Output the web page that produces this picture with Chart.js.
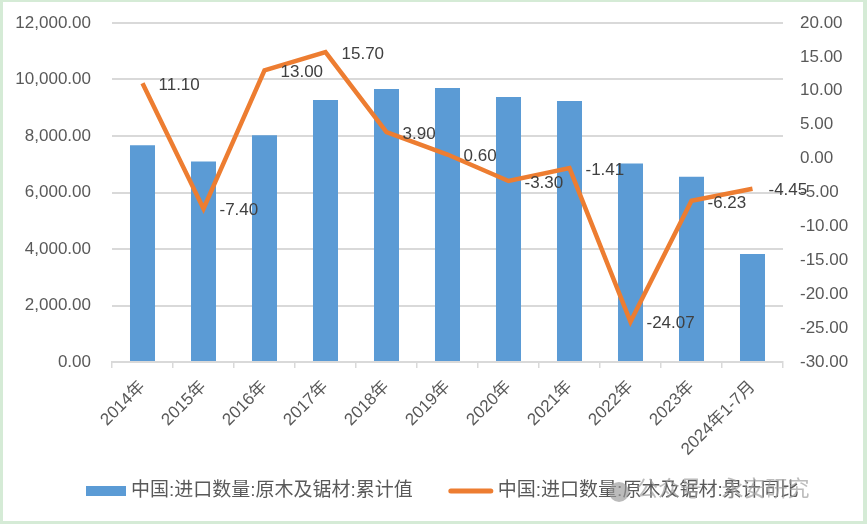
<!DOCTYPE html>
<html>
<head>
<meta charset="utf-8">
<script src="https://cdn.jsdelivr.net/npm/chart.js@4/dist/chart.umd.min.js"></script>
<style>
  html, body { margin: 0; padding: 0; background: #fff; }
  #wrap { position: relative; width: 867px; height: 524px; }
  #frame {
    position: absolute; left: 0; top: 0; width: 867px; height: 524px;
    box-sizing: border-box; border: 3px solid #d5ebd6; border-top-width: 2px;
    border-right-width: 4px; pointer-events: none;
  }
</style>
</head>
<body>
<div id="wrap">
  <canvas id="chart" width="867" height="524"></canvas>
  <div id="frame"></div>
</div>
<script>
const BAR_BLUE = "#5b9bd5";
const LINE_ORANGE = "#ed7d31";
const GRID = "#d9d9d9";
const TEXT = "#595959";
const CLEAR = "rgba(0,0,0,0)";
const FONT = "'Liberation Sans', 'Noto Sans CJK SC', sans-serif";

const years = ["2014年", "2015年", "2016年", "2017年", "2018年", "2019年",
    "2020年", "2021年", "2022年", "2023年", "2024年1-7月"];
const importVolume = [7670, 7100, 8025, 9270, 9660, 9700, 9380, 9235, 7030, 6560, 3825];
const yoyChange = [11.10, -7.40, 13.00, 15.70, 3.90, 0.60, -3.30, -1.41, -24.07, -6.23, -4.45];
const barName = "中国:进口数量:原木及锯材:累计值";
const lineName = "中国:进口数量:原木及锯材:累计同比";

const fmt = (v, d) => Number(v).toLocaleString("en-US", {
    minimumFractionDigits: d, maximumFractionDigits: d,
});

// labels to the right of each line point, like Excel's "right" position
const lineLabels = {
    id: "lineLabels",
    afterDatasetsDraw(chart) {
        const meta = chart.getDatasetMeta(1);
        const ctx = chart.ctx;
        ctx.save();
        ctx.font = `17px ${FONT}`;
        ctx.fillStyle = "#404040";
        ctx.textBaseline = "middle";
        ctx.textAlign = "left";
        meta.data.forEach((pt, i) => {
            ctx.fillText(fmt(yoyChange[i], 2), pt.x + 16, pt.y + 2);
        });
        ctx.restore();
    },
};

// Excel-style legend: wider gap between the two entries than Chart.js allows
const excelLegend = {
    id: "excelLegend",
    afterDraw(chart) {
        const ctx = chart.ctx;
        const y = 491;
        ctx.save();
        ctx.font = `19px ${FONT}`;
        ctx.textBaseline = "middle";
        const w1 = ctx.measureText(barName).width;
        let x = 86;
        ctx.fillStyle = BAR_BLUE;
        ctx.fillRect(x, y - 5, 40, 10);
        x += 45;
        ctx.fillStyle = TEXT;
        ctx.fillText(barName, x, y);
        x += w1 + 36;
        ctx.strokeStyle = LINE_ORANGE;
        ctx.lineWidth = 5;
        ctx.lineCap = "round";
        ctx.beginPath();
        ctx.moveTo(x + 2, y);
        ctx.lineTo(x + 42, y);
        ctx.stroke();
        x += 49;
        ctx.fillText(lineName, x, y);
        ctx.restore();
    },
};

// faint account watermark over the legend
const watermark = {
    id: "watermark",
    afterDraw(chart) {
        const ctx = chart.ctx;
        ctx.save();
        ctx.fillStyle = "rgba(150,150,150,0.65)";
        ctx.beginPath();
        ctx.arc(619, 492, 10, 0, Math.PI * 2);
        ctx.fill();
        ctx.font = `22px ${FONT}`;
        ctx.textBaseline = "middle";
        ctx.fillStyle = "rgba(160,160,160,0.7)";
        ctx.fillText("公众号 · 永安研究", 636, 490);
        ctx.restore();
    },
};

new Chart(document.getElementById("chart"), {
    type: "bar",
    data: {
        labels: years,
        datasets: [{
            type: "bar",
            label: barName,
            data: importVolume,
            backgroundColor: BAR_BLUE,
            yAxisID: "y",
            order: 1,
            barPercentage: 0.41,
            categoryPercentage: 1,
        }, {
            type: "line",
            label: lineName,
            data: yoyChange,
            borderColor: LINE_ORANGE,
            backgroundColor: LINE_ORANGE,
            borderWidth: 4.5,
            pointRadius: 0,
            tension: 0,
            yAxisID: "y1",
            order: 0,
        }],
    },
    options: {
        responsive: false,
        animation: false,
        layout: { padding: { top: 23, bottom: 0, left: 0, right: 0 } },
        plugins: {
            tooltip: { enabled: false },
            legend: { display: false },
        },
        scales: {
            x: {
                offset: true,
                grid: {
                    offset: true, drawOnChartArea: false, drawTicks: true,
                    tickLength: 6, color: GRID, lineWidth: 1.5,
                },
                border: { display: true, color: GRID, width: 2 },
                ticks: {
                    color: TEXT, font: { family: FONT, size: 17 },
                    maxRotation: 45, minRotation: 45, autoSkip: false, padding: 9,
                },
                afterFit(scale) { scale.height = 162; },
            },
            y: {
                position: "left",
                min: 0, max: 12000,
                ticks: {
                    stepSize: 2000, color: TEXT, padding: 1,
                    font: { family: FONT, size: 17 },
                    callback: (v) => fmt(v, 2),
                },
                grid: {
                    color: GRID, lineWidth: 2, drawTicks: true,
                    tickLength: 20, tickColor: CLEAR,
                },
                border: { display: false },
                afterFit(scale) { scale.width = 112; },
            },
            y1: {
                position: "right",
                min: -30, max: 20,
                ticks: {
                    stepSize: 5, color: TEXT, padding: 1,
                    font: { family: FONT, size: 17 },
                    callback: (v) => fmt(v, 2),
                },
                grid: {
                    drawOnChartArea: false, drawTicks: true,
                    tickLength: 16, tickColor: CLEAR,
                },
                border: { display: false },
                afterFit(scale) { scale.width = 84; },
            },
        },
    },
    plugins: [lineLabels, excelLegend, watermark],
});
</script>
</body>
</html>
